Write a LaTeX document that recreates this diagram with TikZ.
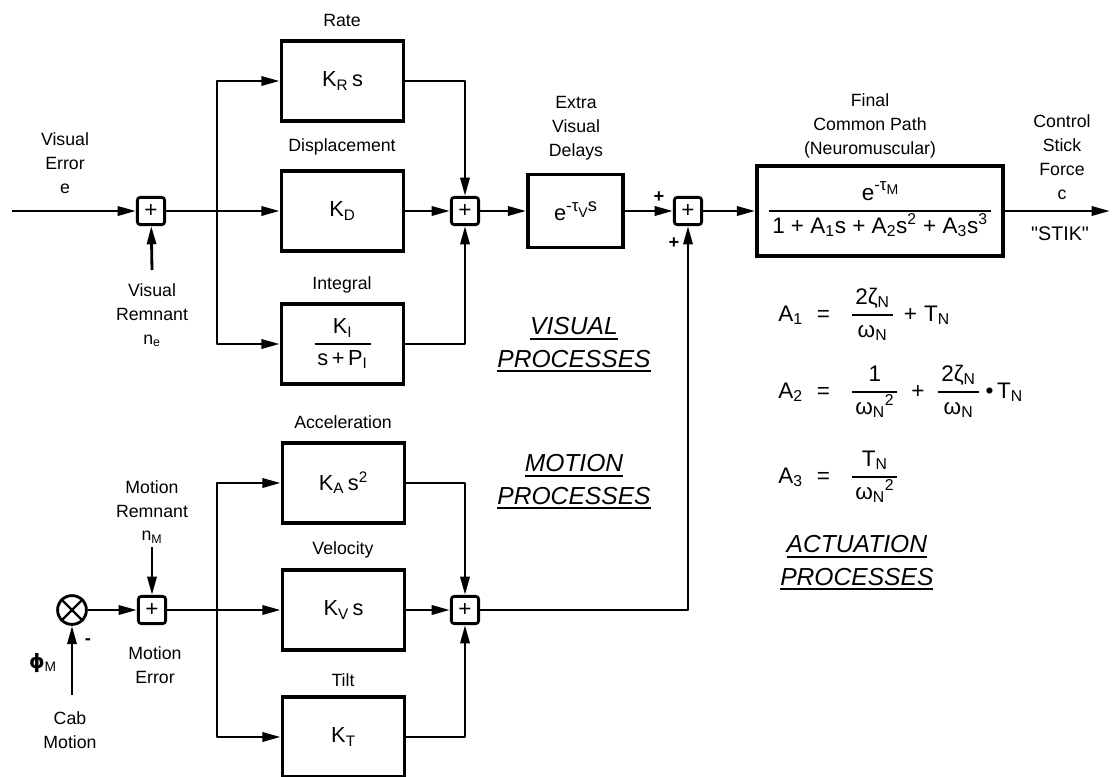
\documentclass[tikz,border=0pt]{standalone}
\usepackage{fontspec}
\setmainfont{Liberation Sans}
\newfontfamily\dvsans{DejaVu Sans}
\usetikzlibrary{arrows.meta}

\newcommand{\sbx}[1]{\textsubscript{#1}}
\newcommand{\spx}[1]{\textsuperscript{#1}}
\newcommand{\ulx}[1]{\vtop{\hbox{#1}\kern2pt\hrule height 1.3pt}}
% stacked fraction with a heavy rule
\newcommand{\fr}[2]{\ensuremath{\vcenter{\hbox{\def\arraystretch{1.05}%
  \begin{tabular}{@{\hspace{2pt}}c@{\hspace{2pt}}}#1\\\noalign{\vskip1pt\hrule height 1.4pt\vskip1pt}#2\end{tabular}}}}}

\tikzset{
  arr/.style={draw, line width=2pt, line join=round, -{Triangle[length=13pt,width=6.5pt]}},
  blk/.style={draw, line width=2.5pt, minimum width=3.05cm, minimum height=2cm,
    font=\fontsize{15.5}{18}\selectfont},
  sumbox/.style={draw, line width=2pt, rounded corners=2pt, minimum size=0.68cm,
    inner sep=0pt, font=\fontsize{16}{16}\selectfont},
  lbl/.style={align=center, inner sep=0pt, font=\fontsize{12.6}{17}\selectfont},
  proc/.style={align=center, inner sep=0pt, font=\fontsize{17.5}{23}\selectfont\itshape},
  eqn/.style={anchor=west, inner sep=0pt, font=\fontsize{16}{19}\selectfont}
}

\begin{document}
\begin{tikzpicture}[x=0.025cm, y=-0.025cm]
  \useasboundingbox (0,0) rectangle (1113,777);

  % visual channel
  \node[sumbox] (s1) at (151,211) {+};
  \node[blk] (rate) at (342.5,81) {K\sbx{R}\,s};
  \node[blk] (disp) at (342.5,211) {K\sbx{D}};
  \node[blk] (integ) at (342.5,344) {\fr{K\sbx{I}}{s\,+\,P\sbx{I}}};
  \node[sumbox] (s2) at (465,211) {+};
  \node[blk, minimum width=2.375cm, minimum height=1.825cm] (delay) at (575.5,211)
    {e\raisebox{6pt}{\fontsize{12}{12}\selectfont -τ}\raisebox{2pt}{\fontsize{10}{10}\selectfont V}\raisebox{6pt}{\fontsize{13}{13}\selectfont s}};
  \node[sumbox] (s3) at (688,211) {+};
  \node[blk, minimum width=6.15cm, minimum height=2.25cm, font=\fontsize{16}{19}\selectfont] (nmusc) at (880,211)
    {\fr{e\raisebox{7pt}{\fontsize{12}{12}\selectfont -τ}\raisebox{4pt}{\fontsize{10}{10}\selectfont M}}{1 + A\sbx{1}s + A\sbx{2}s\spx{2} + A\sbx{3}s\spx{3}}};

  % motion channel
  \node[draw, circle, line width=2pt, minimum size=0.72cm, inner sep=0pt] (mix) at (72,610) {};
  \draw[line width=1.7pt] (mix.north east) -- (mix.south west) (mix.north west) -- (mix.south east);
  \node[sumbox] (s5) at (152,610) {+};
  \node[blk] (accel) at (343.5,483) {K\sbx{A}\,s\spx{2}};
  \node[blk] (velo) at (343.5,610) {K\sbx{V}\,s};
  \node[blk] (tilt) at (343.5,737) {K\sbx{T}};
  \node[sumbox] (s4) at (465,610) {+};

  \coordinate (ein) at (12,211);
  \coordinate (nein) at (152,270);
  \coordinate (vsplit) at (217,211);
  \coordinate (cout) at (1110,211);
  \coordinate (nmin) at (152,547);
  \coordinate (phin) at (72,695);
  \coordinate (msplit) at (217,610);

  % connectors
  \draw[arr] (ein) -- (s1);
  \draw[arr] (nein) -- (s1);
  \draw[arr] (s1) -- (disp);
  \draw[arr] (vsplit) |- (rate);
  \draw[arr] (vsplit) |- (integ);
  \draw[arr] (rate) -| (s2);
  \draw[arr] (disp) -- (s2);
  \draw[arr] (integ) -| (s2);
  \draw[arr] (s2) -- (delay);
  \draw[arr] (delay) -- (s3);
  \draw[arr] (s3) -- (nmusc);
  \draw[arr] (nmusc) -- (cout);
  \draw[arr] (phin) -- (mix);
  \draw[arr] (mix) -- (s5);
  \draw[arr] (nmin) -- (s5);
  \draw[arr] (s5) -- (velo);
  \draw[arr] (msplit) |- (accel);
  \draw[arr] (msplit) |- (tilt);
  \draw[arr] (accel) -| (s4);
  \draw[arr] (velo) -- (s4);
  \draw[arr] (tilt) -| (s4);
  \draw[arr] (s4) -| (s3);

  % labels
  \node[lbl] (lrate) at (342,20) {Rate};
  \node[lbl] (ldisp) at (342,147) {Displacement};
  \node[lbl] (linteg) at (342,285) {Integral};
  \node[lbl] (laccel) at (343,422) {Acceleration};
  \node[lbl] (lvelo) at (343,550) {Velocity};
  \node[lbl] (ltilt) at (343,680) {Tilt};
  \node[lbl] (lverr) at (65,163) {Visual\\Error\\e};
  \node[lbl] (lvrem) at (152,315) {Visual\\Remnant\\n\sbx{e}};
  \node[lbl] (ldelay) at (576,128) {Extra\\Visual\\Delays};
  \node[lbl] (lfinal) at (870,126) {Final\\Common Path\\(Neuromuscular)};
  \node[lbl] (lforce) at (1062,157) {Control\\Stick\\Force\\c};
  \node[lbl, font=\fontsize{14}{17}\selectfont] (lstik) at (1060,234) {\textquotedbl STIK\textquotedbl};
  \node[lbl, font=\fontsize{13}{13}\selectfont\bfseries] (pa) at (659,197) {+};
  \node[lbl, font=\fontsize{13}{13}\selectfont\bfseries] (pb) at (674,243) {+};
  \node[lbl] (lmrem) at (152,512) {Motion\\Remnant\\n\sbx{M}};
  \node[lbl] (lmerr) at (155,665) {Motion\\Error};
  \node[lbl, font=\fontsize{13}{13}\selectfont\bfseries] (lminus) at (88,642) {-};
  \node[lbl, font=\fontsize{14}{17}\selectfont] (lphi) at (43,663) {{\dvsans\bfseries ϕ}\sbx{M}};
  \node[lbl] (lcab) at (70,730) {Cab\\Motion};

  \node[proc] (pvis) at (574,345) {\ulx{VISUAL}\\\ulx{PROCESSES}};
  \node[proc] (pmot) at (574,482) {\ulx{MOTION}\\\ulx{PROCESSES}};
  \node[proc, anchor=west] (pact) at (780,563) {\ulx{ACTUATION}\\\ulx{PROCESSES}};

  % actuation coefficients
  \node[eqn] (eqa) at (778,315) {A\sbx{1}\hspace{10pt}=\hspace{16pt}\fr{2ζ\sbx{N}}{ω\sbx{N}}\hspace{8pt}+\hspace{5pt}T\sbx{N}};
  \node[eqn] (eqb) at (778,392) {A\sbx{2}\hspace{10pt}=\hspace{16pt}\fr{1}{ω\sbx{N}\spx{2}}\hspace{10pt}+\hspace{10pt}\fr{2ζ\sbx{N}}{ω\sbx{N}}\hspace{5pt}\textbullet\,T\sbx{N}};
  \node[eqn] (eqc) at (778,477) {A\sbx{3}\hspace{10pt}=\hspace{16pt}\fr{T\sbx{N}}{ω\sbx{N}\spx{2}}};
\end{tikzpicture}
\end{document}
